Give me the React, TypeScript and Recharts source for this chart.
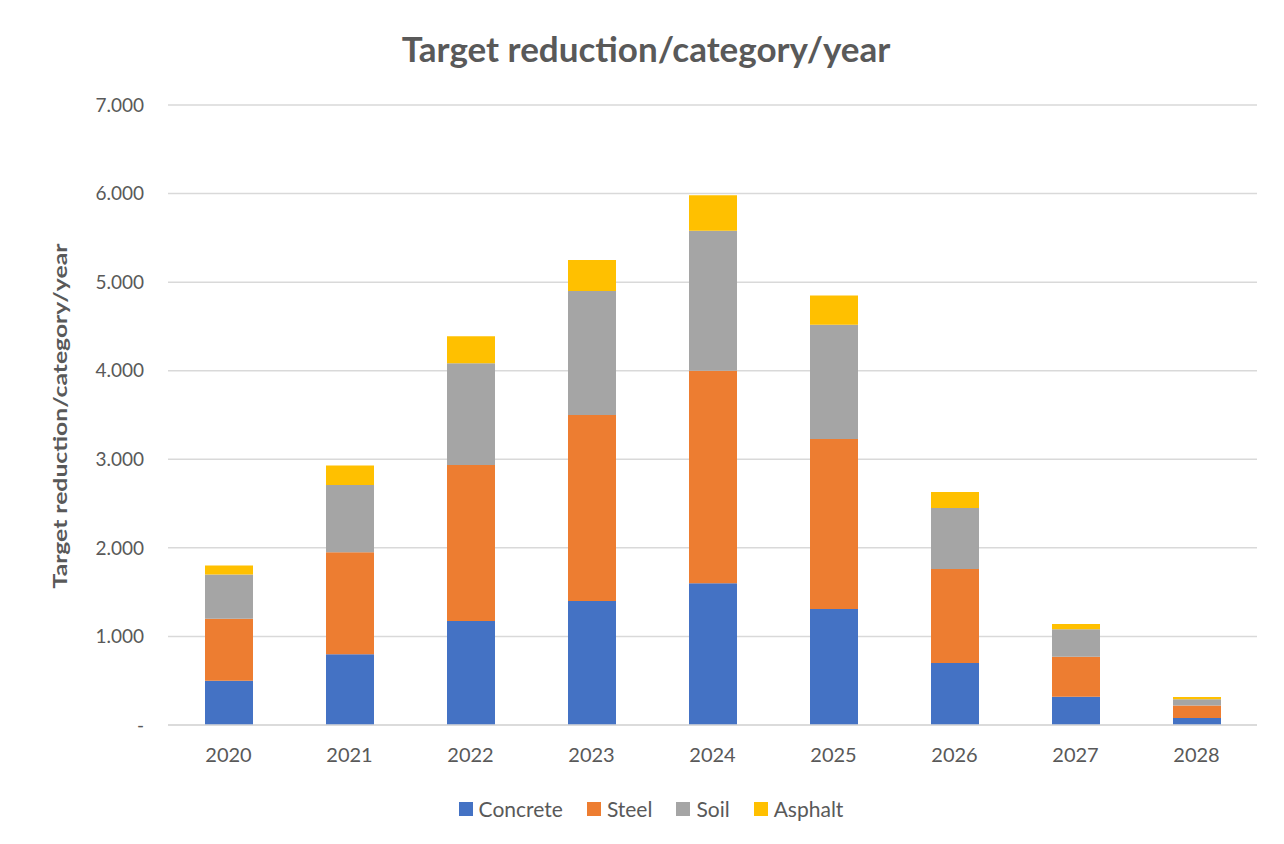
import React from "react";
import {
  BarChart,
  Bar,
  XAxis,
  YAxis,
  CartesianGrid,
  Legend,
} from "recharts";

const years = ["2020", "2021", "2022", "2023", "2024", "2025", "2026", "2027", "2028"];
const concrete = [500, 800, 1175, 1400, 1600, 1310, 700, 320, 80];
const steel = [700, 1150, 1760, 2100, 2400, 1920, 1060, 450, 140];
const soil = [500, 760, 1150, 1400, 1580, 1290, 690, 310, 70];
const asphalt = [100, 220, 305, 350, 400, 330, 180, 60, 25];
const yTicks = [0, 1000, 2000, 3000, 4000, 5000, 6000, 7000];

const series = [
  { key: "Concrete", color: "#4472C4", values: concrete },
  { key: "Steel", color: "#ED7D31", values: steel },
  { key: "Soil", color: "#A5A5A5", values: soil },
  { key: "Asphalt", color: "#FFC000", values: asphalt },
];

const data = years.map((year, i) => {
  const row: Record<string, string | number> = { year };
  series.forEach((s) => {
    row[s.key] = s.values[i];
  });
  return row;
});

const FONT = "Lato, 'Open Sans', sans-serif";
const TEXT = "#595959";

function LegendContent() {
  return (
    <div
      style={{
        display: "flex",
        justifyContent: "center",
        gap: 24,
        paddingLeft: 18,
        fontFamily: FONT,
        fontSize: 21,
        color: TEXT,
      }}
    >
      {series.map((s) => (
        <div key={s.key} style={{ display: "flex", alignItems: "center", gap: 6 }}>
          <span style={{ width: 14, height: 14, background: s.color, display: "inline-block" }} />
          <span>{s.key}</span>
        </div>
      ))}
    </div>
  );
}

export default function App() {
  return (
    <div style={{ margin: -8, width: 1284, height: 844, position: "relative", background: "#fff", overflow: "hidden" }}>
      <div
        style={{
          position: "absolute",
          left: 5,
          top: 6,
          right: -10,
          bottom: -10,
          borderLeft: "2px solid #d9d9d9",
          borderTop: "2px solid #d9d9d9",
        }}
      />
      <div
        style={{
          position: "absolute",
          top: 26,
          left: 4,
          width: "100%",
          textAlign: "center",
          fontFamily: FONT,
          fontWeight: 700,
          fontSize: 35,
          lineHeight: "44px",
          color: TEXT,
        }}
      >
        Target reduction/category/year
      </div>
      <div
        style={{
          position: "absolute",
          left: 59,
          top: 416,
          transform: "translate(-50%, -50%) rotate(-90deg) scaleX(1.3)",
          whiteSpace: "nowrap",
          fontFamily: FONT,
          fontWeight: 700,
          fontSize: 19,
          color: TEXT,
        }}
      >
        Target reduction/category/year
      </div>
      <BarChart
        width={1284}
        height={844}
        data={data}
        margin={{ top: 105, right: 27, left: 88, bottom: 49 }}
        barSize={48}
        style={{ position: "absolute", left: 0, top: 0 }}
      >
        <CartesianGrid vertical={false} stroke="#d9d9d9" strokeWidth={1.5} />
        <XAxis
          dataKey="year"
          axisLine={{ stroke: "#d9d9d9", strokeWidth: 1.5 }}
          tickLine={false}
          height={40}
          tick={{ fill: TEXT, fontSize: 20, fontFamily: FONT }}
          tickMargin={17}
        />
        <YAxis
          domain={[0, 7000]}
          ticks={yTicks}
          interval={0}
          axisLine={false}
          tickLine={false}
          width={80}
          tick={{ fill: TEXT, fontSize: 19, fontFamily: FONT }}
          tickMargin={18}
          tickFormatter={(v: number) => (v === 0 ? "-" : (v / 1000).toFixed(3))}
        />
        <Legend
          content={<LegendContent />}
          verticalAlign="bottom"
          height={30}
          wrapperStyle={{ top: 796, bottom: "auto", left: 0, width: 1284 }}
        />
        {series.map((s) => (
          <Bar key={s.key} dataKey={s.key} stackId="a" fill={s.color} isAnimationActive={false} />
        ))}
      </BarChart>
    </div>
  );
}
